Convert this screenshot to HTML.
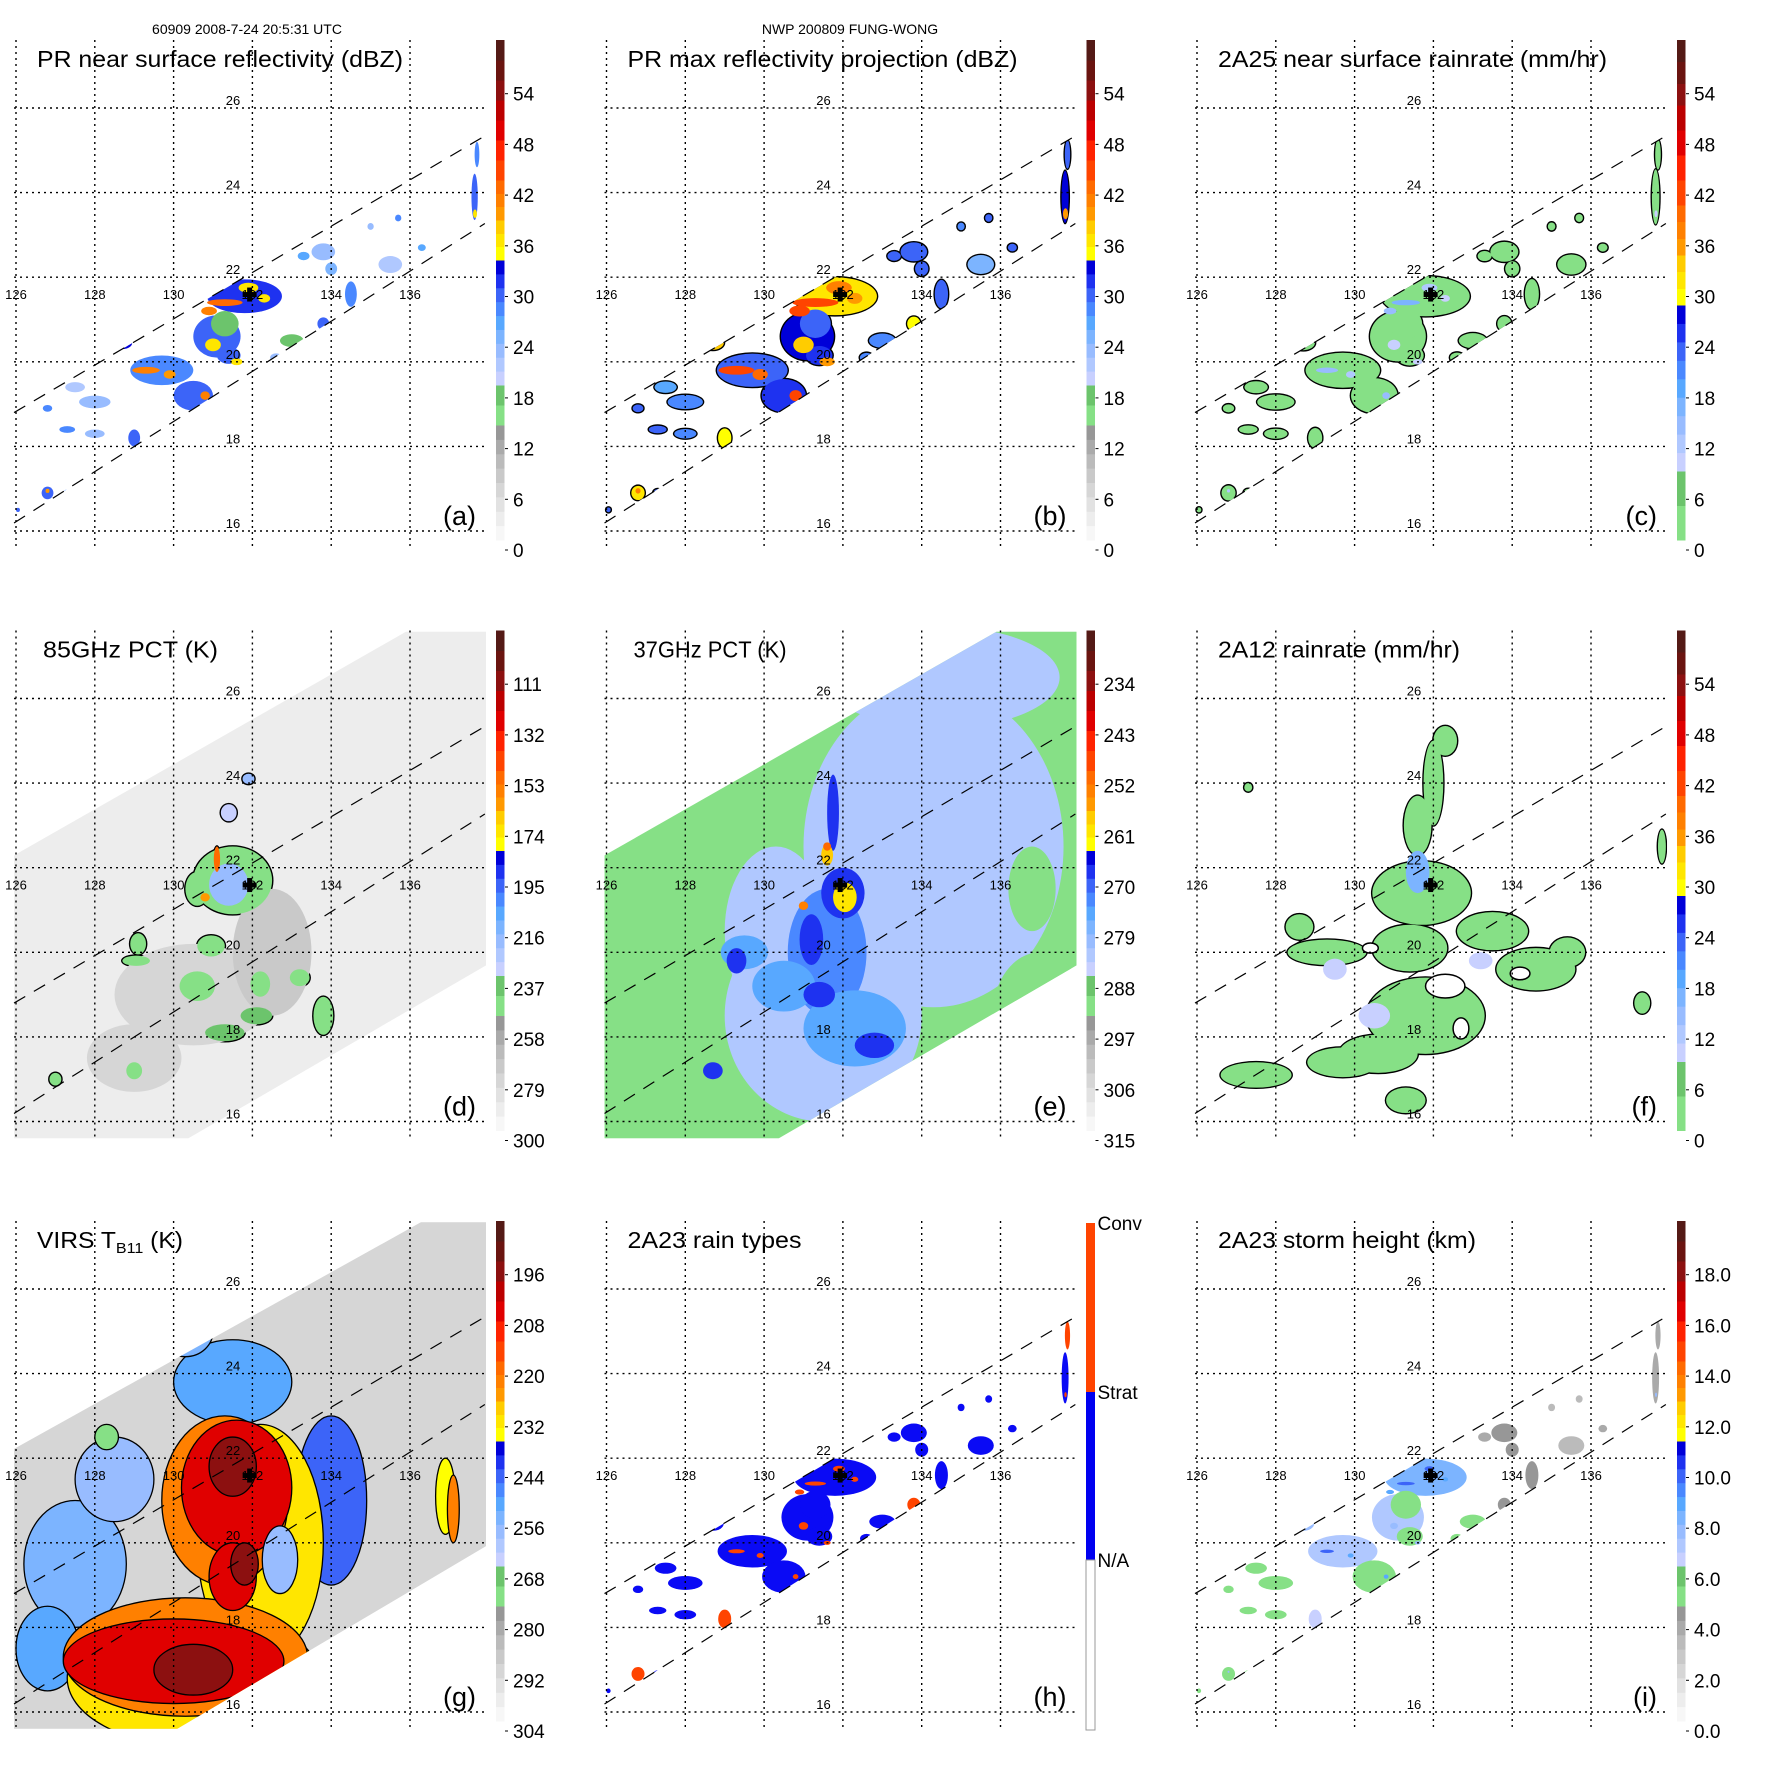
<!DOCTYPE html>
<html><head><meta charset="utf-8">
<style>
html,body{margin:0;padding:0;background:#fff}
body{width:1771px;height:1771px;overflow:hidden;position:relative}
svg text{font-family:"Liberation Sans",Arial,sans-serif}
</style></head>
<body>
<svg id="fig" width="1771" height="1771" viewBox="0 0 1771 1771" xmlns="http://www.w3.org/2000/svg">
<rect x="0" y="0" width="1771" height="1771" fill="#fff"/>
<text x="247" y="34" font-size="14" text-anchor="middle">60909 2008-7-24 20:5:31 UTC</text>
<text x="850" y="34" font-size="14" text-anchor="middle">NWP 200809 FUNG-WONG</text>
</svg>
<script>
// ---------------- data ----------------
const lonTicks=[126,128,130,132,134,136];
const latTicks=[16,18,20,22,24,26];
const stormLon=131.93, stormLat=21.59;

// PR clusters
const prLon=[131.8,131.1,131.3,131.4,129.7,130.5,128.7,128.0,127.5,126.8,127.3,128.0,129.0,126.8,127.3,127.8,126.05,137.64,137.7,133.8,134.0,134.5,133.8,133.3,133.0,132.6,135.5,135.7,136.3,136.5,133.8,135.0];
const prLat=[21.55,20.6,20.9,20.15,19.8,19.2,20.45,19.05,19.4,18.9,18.4,18.3,18.2,16.9,16.9,17.1,16.5,23.9,24.9,22.6,22.2,21.6,20.9,22.5,20.5,20.1,22.3,23.4,22.7,22.2,23.3,23.2];
const prRx=[0.95,0.6,0.35,0.3,0.8,0.5,0.25,0.4,0.25,0.12,0.2,0.25,0.15,0.15,0.1,0.08,0.05,0.08,0.06,0.3,0.15,0.15,0.15,0.15,0.3,0.15,0.3,0.08,0.1,0.1,0.12,0.08];
const prRy=[0.4,0.5,0.3,0.2,0.35,0.35,0.15,0.15,0.12,0.08,0.08,0.1,0.2,0.15,0.08,0.06,0.05,0.55,0.3,0.2,0.15,0.3,0.15,0.1,0.15,0.1,0.2,0.08,0.08,0.1,0.08,0.08];
const nearDbz=[32,30,18,31,29,31,33,23,22,29,29,24,31,31,29,29,30,31,29,24,26,29,31,27,19,24,22,28,27,24,18,24];
const maxDbz=[37,33,30,32,31,32,38,28,27,30,30,28,35,36,30,30,30,33,30,30,30,30,35,30,28,28,26,30,30,28,26,28];
const rainRate=[3,3,2,3,3,3,3,1,1,2,2,1,3,3,2,2,2,3,2,1,1,2,3,2,1,1,1,1,1,1,1,1];
const rainType=[1,1,1,1,1,1,1,1,1,1,1,1,2,2,1,1,1,1,2,1,1,1,2,1,1,1,1,1,1,1,1,1];
const stormHt=[8.2,7.5,5.7,5.7,7.2,5.7,8,5.7,5.7,5.7,5.7,5.7,7,5.7,5.7,5.7,5.7,4,4,4.5,4.5,4.5,4.5,4,5.7,5.7,3.5,3.5,4,4,5.7,3.5];
// PR intense cells
const hotLon=[131.9,131.3,130.9,132.3,131.0,129.3,129.9,130.8,128.7,131.6,126.8,137.65];
const hotLat=[21.75,21.4,21.2,21.5,20.4,19.8,19.7,19.2,20.45,20.0,16.95,23.5];
const hotRx=[0.25,0.45,0.2,0.15,0.2,0.35,0.15,0.12,0.15,0.15,0.05,0.05];
const hotRy=[0.12,0.08,0.1,0.1,0.15,0.08,0.1,0.1,0.08,0.08,0.05,0.1];
const hotDbz=[37,43,42,36,36,42,40,42,40,37,40,37];
const hotMax=[41,45,44,40,38,44,43,44,44,40,42,40];
const hotRain=[12,18,14,10,10,14,12,14,12,10,12,10];
const hotHt=[10,10,9,9,8,10,9,9,10,8,8,8];

// 85 GHz PCT blobs (d)
const d85Lon=[130.5,129.0,132.5,131.5,130.6,131.4,131.1,130.8,130.95,129.1,129.05,130.6,132.2,131.3,132.1,133.2,133.8,129.0,127.0,131.4,131.9];
const d85Lat=[19.0,17.5,20.0,21.7,21.5,21.6,22.2,21.3,20.15,20.2,19.8,19.2,19.25,18.1,18.5,19.4,18.5,17.2,17.0,23.3,24.1];
const d85Rx=[2.0,1.2,1.0,1.0,0.3,0.5,0.08,0.12,0.35,0.2,0.35,0.45,0.25,0.5,0.4,0.25,0.25,0.2,0.15,0.2,0.15];
const d85Ry=[1.2,0.8,1.5,0.8,0.4,0.5,0.3,0.1,0.25,0.25,0.12,0.35,0.3,0.2,0.2,0.2,0.45,0.2,0.15,0.2,0.12];
const d85Val=[274,274,272,240,240,215,150,160,240,240,240,240,240,238,238,240,240,240,240,230,220];

// 37 GHz PCT blobs (e)
const e37Lon=[134.3,134.5,131.5,130.3,137,136.8,131.6,132.3,130.5,129.5,132.0,131.2,131.4,132.8,131.75,129.3,128.7,132.05,131.6,131.6,131.0];
const e37Lat=[22.5,26.5,18.5,20.5,18.5,21.5,20.0,18.2,19.2,20,21.4,20.3,19.0,17.8,23.3,19.8,17.2,21.3,22.3,22.5,21.1];
const e37Rx=[3.3,3.0,2.5,1.3,1.2,0.6,1.0,1.3,0.8,0.6,0.55,0.3,0.4,0.5,0.15,0.25,0.25,0.3,0.15,0.1,0.12];
const e37Ry=[3.8,1.2,2.5,2.0,1.5,1.0,1.5,0.9,0.6,0.4,0.6,0.6,0.3,0.3,0.9,0.3,0.2,0.35,0.25,0.1,0.1];
const e37Val=[281,281,281,281,290,290,273,274,274,275,266,267,266,266,268,267,268,259,257,250,252];

// 2A12 rain blobs (f)
const f12Lon=[132.3,132.0,131.6,131.7,131.4,133.5,134.6,135.4,129.3,128.6,131.8,130.6,129.7,127.5,131.3,127.3,137.8,137.3,131.6,130.5,133.2,129.5];
const f12Lat=[25.0,24.0,23.0,21.4,20.1,20.5,19.6,20.0,20.0,20.6,18.5,17.6,17.4,17.1,16.5,23.9,22.5,18.8,21.9,18.5,19.8,19.6];
const f12Rx=[0.3,0.25,0.35,1.25,0.95,0.9,1.0,0.45,1.0,0.35,1.5,1.0,0.9,0.9,0.5,0.1,0.1,0.2,0.3,0.4,0.3,0.3];
const f12Ry=[0.35,1.0,0.7,0.75,0.55,0.45,0.5,0.35,0.3,0.3,0.9,0.45,0.35,0.3,0.3,0.1,0.4,0.25,0.5,0.3,0.2,0.25];
const f12Val=[3,3,3,3,3,3,3,3,3,3,3,3,3,3,3,3,3,3,16,11,10,10];
const f12HoleLon=[132.3,132.7,130.4,134.2];
const f12HoleLat=[19.2,18.2,20.1,19.5];
const f12HoleRx=[0.5,0.2,0.2,0.25];
const f12HoleRy=[0.28,0.25,0.12,0.15];

// VIRS blobs (g)
const vLon=[127.5,128.5,126.8,134.0,131.5,130.3,132.2,130.5,131.3,130.3,131.6,130,131.5,131.5,130.5,131.8,132.7,136.9,137.1,131.0,128.3];
const vLat=[19.5,21.5,17.5,21.0,23.8,25.0,20.0,16.8,21.0,17.3,21.3,17.2,19.2,21.8,17.0,19.5,19.6,21.1,20.8,25.6,22.5];
const vRx=[1.3,1.0,0.8,0.9,1.5,0.7,1.6,3.2,1.6,3.1,1.4,2.8,0.6,0.6,1.0,0.35,0.45,0.25,0.15,0.4,0.3];
const vRy=[1.5,1.0,1.0,2.0,1.0,0.6,2.8,1.6,2.0,1.4,1.6,1.0,0.8,0.7,0.6,0.5,0.8,0.9,0.8,0.3,0.3];
const vVal=[255,258,250,245,250,252,230,230,220,220,205,205,205,196,196,196,256,234,220,270,270];

const ticksA=[0,6,12,18,24,30,36,42,48,54];
const ticksD=[300,279,258,237,216,195,174,153,132,111];
const ticksE=[315,306,297,288,279,270,261,252,243,234];
const ticksG=[304,292,280,268,256,244,232,220,208,196];
const ticksI=[0,2,4,6,8,10,12,14,16,18];
const labelsI=['0.0','2.0','4.0','6.0','8.0','10.0','12.0','14.0','16.0','18.0'];

// ---------------- helpers ----------------
const NS='http://www.w3.org/2000/svg';
const svg=document.getElementById('fig');
function mk(tag,attrs,parent){const e=document.createElementNS(NS,tag);for(const k in attrs)e.setAttribute(k,attrs[k]);parent.appendChild(e);return e;}
const PXLON=39.4, PXLAT=42.3;
function xs(lon){return 16+(lon-126)*PXLON;}
function ys(lat){return 531-(lat-16)*PXLAT;}

const grays=['#f7f7f7','#ededed','#e2e2e2','#d6d6d6','#c9c9c9','#bbbbbb','#aaaaaa','#979797'];
const blues=['#c8d0ff','#b0c8ff','#98bcff','#7cb4ff','#58a8ff','#4a88ff','#3c64f8','#1e32f0','#0000d8'];
const hotc=['#ffff00','#ffe600','#ffcc00','#ff9900','#ff8000','#ff6a00','#ff4400','#ff2200','#e00000','#bb0000','#8c1010','#6a1410','#541a16'];
function buildPal(low){
  const p=[];
  if(low==='gray'){
    grays.forEach((c,i)=>p.push([(i+1)*0.23/8,c]));
    p.push([0.27,'#86e086']);p.push([0.31,'#6cc46c']);
    blues.forEach((c,i)=>p.push([0.31+(i+1)*0.25/9,c]));
    const tops=[0.587,0.613,0.64,0.667,0.693,0.72,0.76,0.80,0.84,0.88,0.92,0.96,1.0];
    hotc.forEach((c,i)=>p.push([tops[i],c]));
  } else {
    p.push([0.069,'#86e086']);p.push([0.138,'#6cc46c']);
    blues.forEach((c,i)=>p.push([0.138+(i+1)*0.332/9,c]));
    const tops=[0.503,0.537,0.57,0.603,0.637,0.67,0.72,0.77,0.82,0.87,0.913,0.957,1.0];
    hotc.forEach((c,i)=>p.push([tops[i],c]));
  }
  return p;
}
const palA=buildPal('gray'), palC=buildPal('green');
function fracFor(v,ticks){const k=(v-ticks[0])/(ticks[1]-ticks[0]);const y=550-k*50.7;return (540-y)/500;}
function colorFor(v,ticks,pal){const f=fracFor(v,ticks);for(const b of pal){if(f<=b[0])return b[1];}return pal[pal.length-1][1];}

let clipN=0;
function makeClip(g,lonArr,latArr){
  const id='clip'+(clipN++);
  const cp=mk('clipPath',{id:id},g);
  mk('polygon',{points:lonArr.map((l,i)=>xs(l)+','+ys(latArr[i])).join(' ')},cp);
  return id;
}
const prSwathLon=[125.95,137.9,137.9,125.95], prSwathLat=[18.8,25.34,23.27,16.19];
const tmiSwathLon=[125.95,135.9,137.93,137.93,130.37,125.95], tmiSwathLat=[22.29,27.58,27.58,19.69,15.6,15.6];
const virsSwathLon=[125.95,136.28,137.93,137.93,130.09,125.95], virsSwathLat=[22.22,27.58,27.58,19.92,15.6,15.6];
const plotLon=[125.95,137.93,137.93,125.95], plotLat=[27.58,27.58,15.6,15.6];

function blobs(parent,name,lon,lat,rx,ry,colorOf,outline,scale){
  scale=scale||1;
  if(outline){
    const go=mk('g',{},parent);
    
    
    for(let i=0;i<lon.length;i++){
      if(outline(i)){
        const e=mk('ellipse',{cx:xs(lon[i]),cy:ys(lat[i]),rx:rx[i]*PXLON*scale+1.4,ry:ry[i]*PXLAT*scale+1.4,fill:'#000'},go);
        
        
      }
    }
  }
  const gf=mk('g',{},parent);
  
  
  for(let i=0;i<lon.length;i++){
    const e=mk('ellipse',{cx:xs(lon[i]),cy:ys(lat[i]),rx:rx[i]*PXLON*scale,ry:ry[i]*PXLAT*scale,fill:colorOf(i)},gf);
    
    
  }
}

function panel(col,row,opts){
  const g=mk('g',{transform:'translate('+(col*590.5)+','+(row*590.5)+')'},svg);
  
  
  const clipPlot=makeClip(g,plotLon,plotLat);
  const data=mk('g',{'clip-path':'url(#'+clipPlot+')'},g);
  
  
  opts.draw(data);
  const grid=mk('g',{stroke:'#000','stroke-width':1.4,'stroke-dasharray':'2,4',fill:'none'},g);
  
  
  lonTicks.forEach(l=>{const ln=mk('line',{x1:xs(l),x2:xs(l),y1:40,y2:548},grid);
    
    });
  latTicks.forEach(l=>{const ln=mk('line',{x1:14,x2:487,y1:ys(l),y2:ys(l)},grid);
    
    });
  const sw=mk('g',{stroke:'#000','stroke-width':1.2,'stroke-dasharray':'13,10',fill:'none'},g);
  
  
  mk('line',{x1:xs(prSwathLon[0]),y1:ys(prSwathLat[0]),x2:xs(prSwathLon[1]),y2:ys(prSwathLat[1])},sw);
  mk('line',{x1:xs(prSwathLon[3]),y1:ys(prSwathLat[3]),x2:xs(prSwathLon[2]),y2:ys(prSwathLat[2])},sw);
  lonTicks.forEach(l=>{const t=mk('text',{x:xs(l),y:299,'font-size':13,'text-anchor':'middle'},g);t.textContent=String(l);
    
    });
  latTicks.forEach(l=>{const t=mk('text',{x:233,y:ys(l)-3,'font-size':13,'text-anchor':'middle'},g);t.textContent=String(l);
    
    });
  const cx=xs(stormLon), cy=ys(stormLat);
  const cr=mk('g',{fill:'#000'},g);
  
  
  mk('rect',{x:cx-7,y:cy-2.5,width:14,height:5},cr);
  mk('rect',{x:cx-2.5,y:cy-7,width:5,height:14},cr);
  const tt=mk('text',{x:opts.tx||37,y:67,'font-size':23,textLength:opts.tw,lengthAdjust:'spacingAndGlyphs'},g);
  if(opts.sub){tt.textContent=opts.title;const ts=mk('tspan',{'font-size':15,dy:5},tt);ts.textContent=opts.sub;const t3=mk('tspan',{dy:-5},tt);t3.textContent=opts.title2;}
  else tt.textContent=opts.title;
  
  
  const pl=mk('text',{x:476,y:525,'font-size':27,'text-anchor':'end'},g);pl.textContent='('+opts.letter+')';
  
  
  const cb=mk('g',{},g);
  
  
  if(opts.cbType==='types'){
    mk('rect',{x:495.5,y:42,width:9,height:169,fill:'#ff4400'},cb);
    mk('rect',{x:495.5,y:211,width:9,height:168,fill:'#0000f0'},cb);
    mk('rect',{x:495.5,y:379,width:9,height:170,fill:'#fff',stroke:'#999','stroke-width':1},cb);
    [['Conv',49],['Strat',218],['N/A',386]].forEach(a=>{const t=mk('text',{x:507,y:a[1],'font-size':19},cb);t.textContent=a[0];
      
      });
  } else {
    let prev=0;
    opts.pal.forEach(b=>{mk('rect',{x:496,y:540-b[0]*500,width:8.5,height:(b[0]-prev)*500+0.5,fill:b[1]},cb);prev=b[0];});
    opts.ticks.forEach((v,k)=>{const y=550-k*50.7;
      mk('line',{x1:505,x2:508,y1:y,y2:y,stroke:'#000','stroke-width':1},cb);
      const t=mk('text',{x:513,y:y+7,'font-size':19},cb);t.textContent=opts.labels?opts.labels[k]:String(v);
      
      });
  }
}

function prClip(parent){const id=makeClip(parent,prSwathLon,prSwathLat);const g=mk('g',{'clip-path':'url(#'+id+')'},parent);return g;}
function tmiClip(parent,lon,lat,fill){const id=makeClip(parent,lon,lat);const g=mk('g',{'clip-path':'url(#'+id+')'},parent);
  mk('rect',{x:0,y:0,width:500,height:560,fill:fill},g);return g;}

panel(0,0,{letter:'a',title:'PR near surface reflectivity (dBZ)',tw:366,ticks:ticksA,pal:palA,draw:g=>{
  const c=prClip(g);
  blobs(c,'reflectivity-cells',prLon,prLat,prRx,prRy,i=>colorFor(nearDbz[i],ticksA,palA),null);
  blobs(c,'reflectivity-cores',hotLon,hotLat,hotRx,hotRy,i=>colorFor(hotDbz[i],ticksA,palA),null);
}});
panel(1,0,{letter:'b',title:'PR max reflectivity projection (dBZ)',tw:390,ticks:ticksA,pal:palA,draw:g=>{
  const c=prClip(g);
  blobs(c,'max-reflectivity-cells',prLon,prLat,prRx,prRy,i=>colorFor(maxDbz[i],ticksA,palA),i=>true,1.12);
  blobs(c,'max-reflectivity-cores',hotLon,hotLat,hotRx,hotRy,i=>colorFor(hotMax[i],ticksA,palA),null,1.3);
}});
panel(2,0,{letter:'c',title:'2A25 near surface rainrate (mm/hr)',tw:389,ticks:ticksA,pal:palC,draw:g=>{
  const c=prClip(g);
  blobs(c,'rainrate-cells',prLon,prLat,prRx,prRy,i=>colorFor(rainRate[i],ticksA,palC),i=>true,1.18);
  blobs(c,'rainrate-cores',hotLon,hotLat,hotRx,hotRy,i=>colorFor(hotRain[i],ticksA,palC),null,0.8);
}});
panel(0,1,{letter:'d',title:'85GHz PCT (K)',tx:43,tw:175,ticks:ticksD,pal:palA,draw:g=>{
  const c=tmiClip(g,tmiSwathLon,tmiSwathLat,colorFor(286,ticksD,palA));
  blobs(c,'pct85-cells',d85Lon,d85Lat,d85Rx,d85Ry,i=>colorFor(d85Val[i],ticksD,palA),i=>d85Val[i]<250);
}});
panel(1,1,{letter:'e',title:'37GHz PCT (K)',tx:43,tw:153,ticks:ticksE,pal:palA,draw:g=>{
  const c=tmiClip(g,tmiSwathLon,tmiSwathLat,colorFor(290,ticksE,palA));
  blobs(c,'pct37-cells',e37Lon,e37Lat,e37Rx,e37Ry,i=>colorFor(e37Val[i],ticksE,palA),null);
}});
panel(2,1,{letter:'f',title:'2A12 rainrate (mm/hr)',tw:242,ticks:ticksA,pal:palC,draw:g=>{
  blobs(g,'tmi-rain-cells',f12Lon,f12Lat,f12Rx,f12Ry,i=>colorFor(f12Val[i],ticksA,palC),i=>f12Val[i]<6);
  const hz=mk('g',{},g);
  
  
  for(let i=0;i<f12HoleLon.length;i++){
    const e=mk('ellipse',{cx:xs(f12HoleLon[i]),cy:ys(f12HoleLat[i]),rx:f12HoleRx[i]*PXLON,ry:f12HoleRy[i]*PXLAT,fill:'#fff',stroke:'#000','stroke-width':1.5},hz);
    
    
  }
}});
panel(0,2,{letter:'g',title:'VIRS T',sub:'B11',title2:' (K)',tw:146,ticks:ticksG,pal:palA,draw:g=>{
  const c=tmiClip(g,virsSwathLon,virsSwathLat,colorFor(290,ticksG,palA));
  const gs=mk('g',{stroke:'#000','stroke-width':1.3},c);
  blobs(gs,'ir-brightness-cells',vLon,vLat,vRx,vRy,i=>colorFor(vVal[i],ticksG,palA),null);
}});
panel(1,2,{letter:'h',title:'2A23 rain types',tw:174,cbType:'types',draw:g=>{
  const c=prClip(g);
  blobs(c,'rain-type-cells',prLon,prLat,prRx,prRy,i=>rainType[i]===2?'#ff4400':'#0a0af5',null,1.1);
  blobs(c,'convective-cells',hotLon,hotLat,hotRx,hotRy,i=>'#ff4400',null,0.6);
}});
panel(2,2,{letter:'i',title:'2A23 storm height (km)',tw:258,ticks:ticksI,labels:labelsI,pal:palA,draw:g=>{
  const c=prClip(g);
  blobs(c,'storm-height-cells',prLon,prLat,prRx,prRy,i=>colorFor(stormHt[i],ticksI,palA),null,1.1);
  blobs(c,'storm-height-cores',hotLon,hotLat,hotRx,hotRy,i=>colorFor(hotHt[i],ticksI,palA),null,0.5);
}});
</script>
</body></html>
